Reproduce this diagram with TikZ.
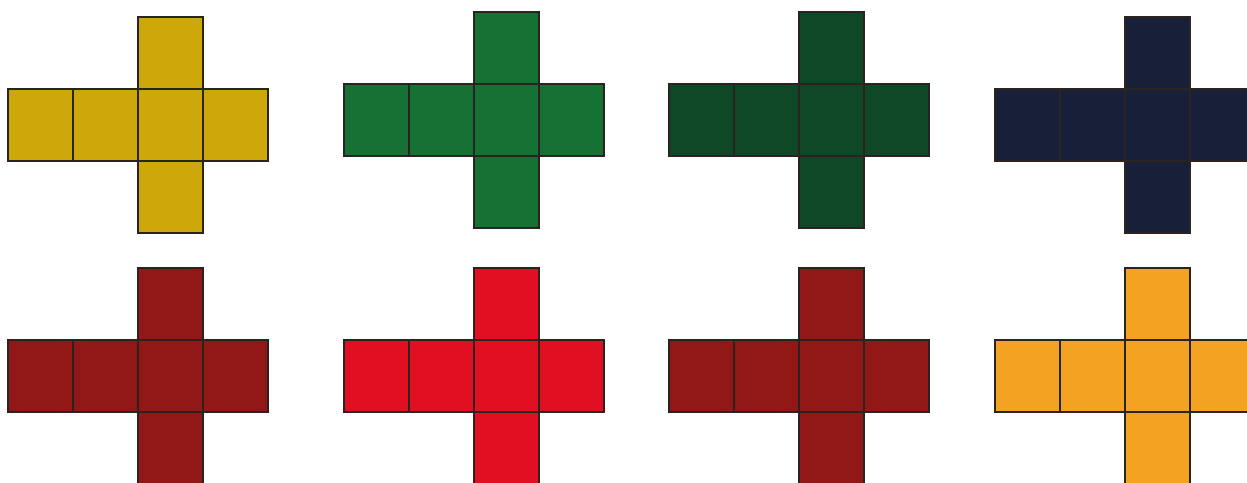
\documentclass[tikz,border=0pt]{standalone}
\definecolor{cyellow}{HTML}{CDA80A}
\definecolor{cgreen}{HTML}{157234}
\definecolor{cdkgreen}{HTML}{0F4826}
\definecolor{cnavy}{HTML}{181F38}
\definecolor{cdkred}{HTML}{921817}
\definecolor{cred}{HTML}{E10F22}
\definecolor{corange}{HTML}{F4A221}
\definecolor{cedge}{HTML}{2A2320}
\tikzset{face/.style={draw=cedge, line width=1.5pt, line join=miter}}
\begin{document}
\begin{tikzpicture}[x=1pt,y=-1pt]
\useasboundingbox (0,0) rectangle (1247,482);
\fill[white] (0,0) rectangle (1247,482);
\clip (0,0) rectangle (1247,482);
\foreach \xo/\yo/\col in {8/89/cyellow, 344/84/cgreen, 669/84/cdkgreen, 995/89/cnavy,
                          8/340/cdkred, 344/340/cred, 669/340/cdkred, 995/340/corange} {
  \foreach \i in {0,1,2,3} {
    \filldraw[face, fill=\col] ({\xo+\i*65},\yo) rectangle ({\xo+(\i+1)*65},{\yo+72});
  }
  \filldraw[face, fill=\col] ({\xo+130},{\yo-72}) rectangle ({\xo+195},\yo);
  \filldraw[face, fill=\col] ({\xo+130},{\yo+72}) rectangle ({\xo+195},{\yo+144});
}
\end{tikzpicture}
\end{document}
